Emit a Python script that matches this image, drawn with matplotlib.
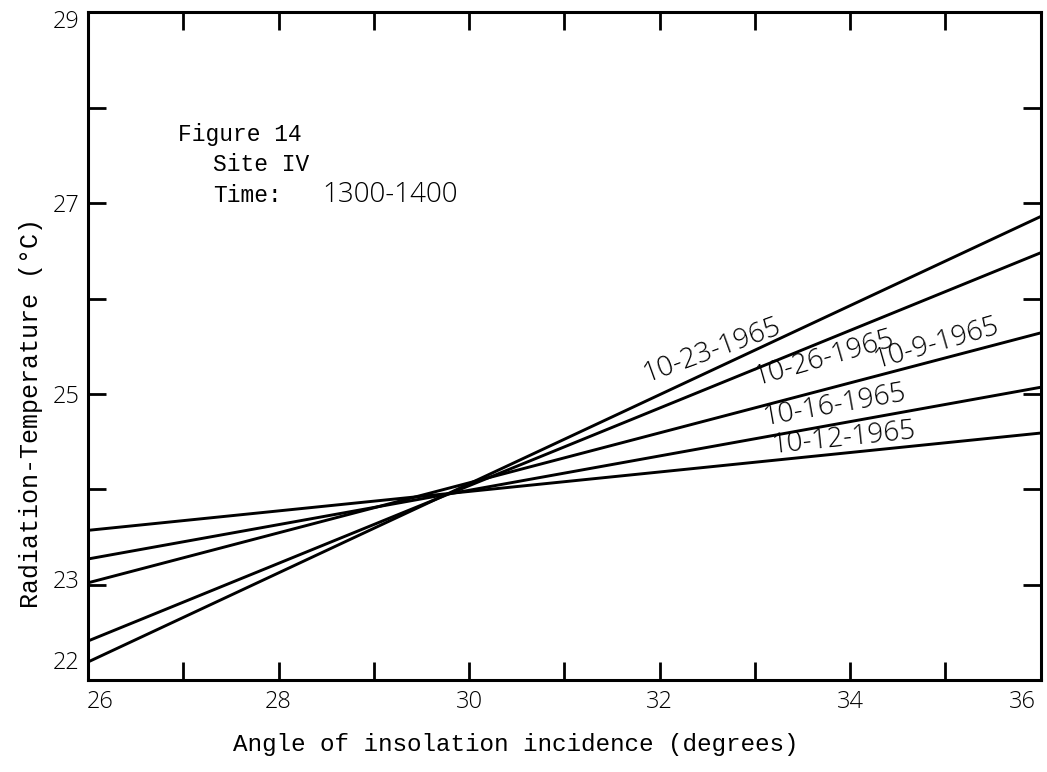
import matplotlib
matplotlib.use("Agg")
import matplotlib.pyplot as plt
from matplotlib.transforms import ScaledTranslation

# endpoints of the fitted lines at 26 and 36 degrees
dates = ['10-23-1965', '10-26-1965', '10-9-1965', '10-16-1965', '10-12-1965']
angle_ends = [26, 36]
temp_at_26 = [22.19, 22.41, 23.02, 23.27, 23.57]
temp_at_36 = [26.86, 26.48, 25.64, 25.07, 24.59]

# where each date is written along its line
label_x = [31.86, 33.02, 34.28, 33.10, 33.18]
label_y = [25.13, 25.09, 25.27, 24.67, 24.38]
label_rot = [20, 16, 16, 10, 6]

mono = 'Liberation Mono'
nums = 'Open Sans'

fig = plt.figure(figsize=(10.47, 7.72), dpi=100)
ax = fig.add_axes([0.084, 0.119, 0.910, 0.865])

for i in range(len(dates)):
    ax.plot(angle_ends, [temp_at_26[i], temp_at_36[i]], color='black', lw=2.1,
            solid_capstyle='butt')
    ax.text(label_x[i], label_y[i], dates[i], rotation=label_rot[i],
            rotation_mode='anchor', fontsize=20, family=nums, weight='light',
            color='black')

ax.set_xlim(26, 36)
ax.set_ylim(22, 29)

ax.set_xticks(range(26, 37))
ax.set_xticklabels([str(v) if v % 2 == 0 else '' for v in range(26, 37)],
                   family=nums, fontsize=17, weight='light')
ax.set_yticks(range(22, 30))
ax.set_yticklabels([str(v) if v in (22, 23, 25, 27, 29) else '' for v in range(22, 30)],
                   family=nums, fontsize=17, weight='light')
ax.tick_params(direction='in', length=13, width=2, top=True, right=True)
ax.tick_params(axis='x', pad=7)
ax.tick_params(axis='y', pad=6)

# nudge the corner labels off the spines
def nudge(lbl, dx, dy):
    lbl.set_transform(lbl.get_transform() + ScaledTranslation(dx / 100, dy / 100, fig.dpi_scale_trans))

xl = ax.get_xticklabels()
nudge(xl[0], 12, 0)
nudge(xl[-1], -18, 0)
yl = ax.get_yticklabels()
nudge(yl[0], 0, 20)
nudge(yl[1], 0, 6)
nudge(yl[-1], 0, -7)

for s in ax.spines.values():
    s.set_linewidth(2.2)

fig.text(0.03, 0.465, 'Radiation-Temperature (°C)', rotation=90, ha='center',
         va='center', family=mono, fontsize=18)
fig.text(0.493, 0.035, 'Angle of insolation incidence (degrees)', ha='center',
         va='center', family=mono, fontsize=17.5)

# figure caption block
cap = dict(transform=ax.transAxes, va='baseline')
ax.text(0.0944, 0.808, 'Figure 14', family=mono, fontsize=16.5, **cap)
ax.text(0.131, 0.763, 'Site IV', family=mono, fontsize=16.5, **cap)
ax.text(0.131, 0.7156, 'Time:', family=mono, fontsize=16.5, **cap)
ax.text(0.2455, 0.7156, '1300-1400', family=nums, weight='light', fontsize=20, **cap)

fig.savefig('out.png', dpi=100)
